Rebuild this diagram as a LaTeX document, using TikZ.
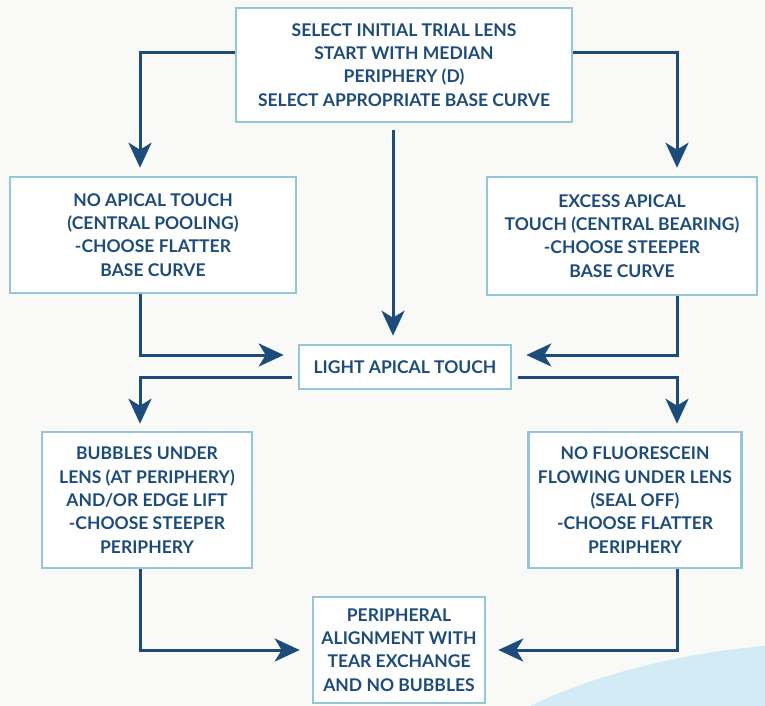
\documentclass[tikz,border=0pt]{standalone}
\usepackage{fontspec}
\setmainfont{Lato}
\usetikzlibrary{arrows.meta}
\definecolor{navy}{HTML}{1D4C7B}
\definecolor{boxblue}{HTML}{94C6D6}
\definecolor{paper}{HTML}{F9F9F7}
\definecolor{blob}{HTML}{D3EBF4}
\begin{document}
\begin{tikzpicture}[x=1pt,y=-1pt,
  box/.style={draw=boxblue,line width=2.6pt,fill=white,rectangle,align=center,
    text=navy,font=\fontsize{17.5}{23.3}\selectfont\bfseries,inner sep=0pt},
  arr/.style={draw=navy,line width=3pt,-{Stealth[length=25pt,width=23pt,inset=7pt]}}]
\useasboundingbox (0,0) rectangle (765,706);
\fill[paper] (0,0) rectangle (765,706);
\fill[blob] (530,706) .. controls (600,672) and (690,652) .. (765,646) -- (765,706) -- cycle;
\coordinate (c140) at (140,0);
\coordinate (c393) at (393,0);
\coordinate (c677) at (677,0);
\node[box,minimum width=336pt,minimum height=114pt] (top) at (404,65)
  {SELECT INITIAL TRIAL LENS\\START WITH MEDIAN\\PERIPHERY (D)\\SELECT APPROPRIATE BASE CURVE};
\node[box,minimum width=286pt,minimum height=116pt] (left) at (153,235)
  {NO APICAL TOUCH\\(CENTRAL POOLING)\\-CHOOSE FLATTER\\BASE CURVE};
\node[box,minimum width=270pt,minimum height=118pt] (right) at (622,236)
  {EXCESS APICAL\\TOUCH (CENTRAL BEARING)\\-CHOOSE STEEPER\\BASE CURVE};
\node[box,minimum width=212pt,minimum height=44pt] (light) at (405,367)
  {LIGHT APICAL TOUCH};
\node[box,minimum width=210pt,minimum height=136pt] (bl) at (147,500)
  {BUBBLES UNDER\\LENS (AT PERIPHERY)\\AND/OR EDGE LIFT\\-CHOOSE STEEPER\\PERIPHERY};
\node[box,minimum width=213pt,minimum height=136pt] (br) at (635,500)
  {NO FLUORESCEIN\\FLOWING UNDER LENS\\(SEAL OFF)\\-CHOOSE FLATTER\\PERIPHERY};
\node[box,minimum width=172pt,minimum height=106pt] (bottom) at (399,650)
  {PERIPHERAL\\ALIGNMENT WITH\\TEAR EXCHANGE\\AND NO BUBBLES};
\draw[arr,shorten >=8pt] ([yshift=12pt]top.west) -| (left.north -| c140);
\draw[arr,shorten >=8pt] ([yshift=12pt]top.east) -| (right.north -| c677);
\draw[arr,shorten <=7pt,shorten >=8pt] (top.south -| c393) -- (light.north -| c393);
\draw[arr,shorten >=14pt] (left.south -| c140) |- ([yshift=12pt]light.west);
\draw[arr,shorten >=14pt] (right.south -| c677) |- ([yshift=12pt]light.east);
\draw[arr,shorten <=6pt,shorten >=7pt] ([yshift=-10pt]light.west) -| (bl.north -| c140);
\draw[arr,shorten <=6pt,shorten >=7pt] ([yshift=-10pt]light.east) -| (br.north -| c677);
\draw[arr,shorten >=12pt] (bl.south -| c140) |- (bottom.west);
\draw[arr,shorten >=12pt] (br.south -| c677) |- (bottom.east);
\end{tikzpicture}
\end{document}
